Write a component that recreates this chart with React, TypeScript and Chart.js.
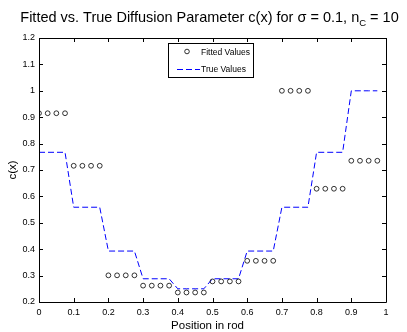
import React, { useEffect, useRef } from "react";
import { Chart, registerables } from "chart.js";

Chart.register(...registerables);

const positions: number[] = [
  0, 0.025, 0.05, 0.075, 0.1, 0.125, 0.15, 0.175, 0.2, 0.225,
  0.25, 0.275, 0.3, 0.325, 0.35, 0.375, 0.4, 0.425, 0.45, 0.475,
  0.5, 0.525, 0.55, 0.575, 0.6, 0.625, 0.65, 0.675, 0.7, 0.725,
  0.75, 0.775, 0.8, 0.825, 0.85, 0.875, 0.9, 0.925, 0.95, 0.975,
];

const fittedValues: number[] = [
  0.915, 0.915, 0.915, 0.915, 0.716, 0.716, 0.716, 0.716,
  0.301, 0.301, 0.301, 0.301, 0.262, 0.262, 0.262, 0.262,
  0.236, 0.236, 0.236, 0.236, 0.278, 0.278, 0.278, 0.278,
  0.356, 0.356, 0.356, 0.356, 1.0, 1.0, 1.0, 1.0,
  0.629, 0.629, 0.629, 0.629, 0.735, 0.735, 0.735, 0.735,
];

const trueValues: number[] = [
  0.767, 0.767, 0.767, 0.767, 0.559, 0.559, 0.559, 0.559,
  0.393, 0.393, 0.393, 0.393, 0.288, 0.288, 0.288, 0.288,
  0.25, 0.25, 0.25, 0.25, 0.288, 0.288, 0.288, 0.288,
  0.393, 0.393, 0.393, 0.393, 0.559, 0.559, 0.559, 0.559,
  0.767, 0.767, 0.767, 0.767, 1.0, 1.0, 1.0, 1.0,
];

const xTicks: number[] = [0, 0.1, 0.2, 0.3, 0.4, 0.5, 0.6, 0.7, 0.8, 0.9, 1];
const yTicks: number[] = [0.2, 0.3, 0.4, 0.5, 0.6, 0.7, 0.8, 0.9, 1, 1.1, 1.2];

const titleMain = "Fitted vs. True Diffusion Parameter c(x) for \u03c3 = 0.1, n";
const titleSub = "C";
const titleEnd = " = 10";
const xLabel = "Position in rod";
const yLabel = "c(x)";
const legendLabels: string[] = ["Fitted Values", "True Values"];

const FONT = "'Liberation Sans', Arial, Helvetica, sans-serif";

const W = 407;
const H = 332;

const decorPlugin = {
  id: "decor",
  afterDatasetsDraw(chart: any) {
    const ctx = chart.ctx as CanvasRenderingContext2D;
    const { left, right, top, bottom } = chart.chartArea;
    const xs = chart.scales.x;
    const ys = chart.scales.y;
    ctx.save();
    // box
    ctx.strokeStyle = "#000";
    ctx.lineWidth = 1;
    ctx.beginPath();
    ctx.rect(Math.round(left) + 0.5, Math.round(top) + 0.5, Math.round(right - left), Math.round(bottom - top));
    ctx.stroke();
    // inner ticks
    const tl = 4;
    ctx.beginPath();
    xTicks.forEach((v) => {
      const px = Math.round(xs.getPixelForValue(v)) + 0.5;
      ctx.moveTo(px, bottom);
      ctx.lineTo(px, bottom - tl);
      ctx.moveTo(px, top);
      ctx.lineTo(px, top + tl);
    });
    yTicks.forEach((v) => {
      const py = Math.round(ys.getPixelForValue(v)) + 0.5;
      ctx.moveTo(left, py);
      ctx.lineTo(left + tl, py);
      ctx.moveTo(right, py);
      ctx.lineTo(right - tl, py);
    });
    ctx.stroke();

    // title
    ctx.fillStyle = "#000";
    ctx.textBaseline = "alphabetic";
    const tf = `14.5px ${FONT}`;
    const sf = `9.5px ${FONT}`;
    ctx.font = tf;
    const w1 = ctx.measureText(titleMain).width;
    const w3 = ctx.measureText(titleEnd).width;
    ctx.font = sf;
    const w2 = ctx.measureText(titleSub).width;
    const total = w1 + w2 + w3;
    let tx = 209.5 - total / 2;
    const ty = 21.5;
    ctx.textAlign = "left";
    ctx.font = tf;
    ctx.fillText(titleMain, tx, ty);
    tx += w1;
    ctx.font = sf;
    ctx.fillText(titleSub, tx, ty + 4);
    tx += w2;
    ctx.font = tf;
    ctx.fillText(titleEnd, tx, ty);

    // axis labels
    ctx.font = `11.5px ${FONT}`;
    ctx.textAlign = "center";
    ctx.textBaseline = "middle";
    ctx.fillText(xLabel, 207.5, 326);
    ctx.save();
    ctx.translate(12.5, 170);
    ctx.rotate(-Math.PI / 2);
    ctx.fillText(yLabel, 0, 0);
    ctx.restore();

    // legend
    const lx = 168.5, ly = 43.5, lw = 85, lh = 34;
    ctx.fillStyle = "#fff";
    ctx.fillRect(lx, ly, lw, lh);
    ctx.strokeStyle = "#000";
    ctx.lineWidth = 1;
    ctx.strokeRect(lx, ly, lw, lh);
    ctx.beginPath();
    ctx.arc(187, 51.5, 2.3, 0, Math.PI * 2);
    ctx.strokeStyle = "#000";
    ctx.lineWidth = 0.8;
    ctx.stroke();
    ctx.beginPath();
    ctx.setLineDash([6, 3]);
    ctx.strokeStyle = "#0000ff";
    ctx.lineWidth = 1;
    ctx.moveTo(177, 69.5);
    ctx.lineTo(200, 69.5);
    ctx.stroke();
    ctx.setLineDash([]);
    ctx.fillStyle = "#000";
    ctx.font = `8.5px ${FONT}`;
    ctx.textAlign = "left";
    ctx.textBaseline = "middle";
    ctx.fillText(legendLabels[0], 201, 53);
    ctx.fillText(legendLabels[1], 201, 70);
    ctx.restore();
  },
};

export default function App() {
  const ref = useRef<HTMLCanvasElement | null>(null);
  useEffect(() => {
    if (!ref.current) return;
    const chart = new Chart(ref.current, {
      type: "scatter",
      data: {
        datasets: [
          {
            label: legendLabels[0],
            data: positions.map((x, i) => ({ x, y: fittedValues[i] })),
            showLine: false,
            pointStyle: "circle",
            pointRadius: 2.4,
            pointBorderWidth: 0.8,
            pointBorderColor: "#000",
            pointBackgroundColor: "rgba(0,0,0,0)",
          },
          {
            label: legendLabels[1],
            data: positions.map((x, i) => ({ x, y: trueValues[i] })),
            showLine: true,
            borderColor: "#0000ff",
            borderWidth: 1,
            borderDash: [6, 3],
            pointRadius: 0,
            fill: false,
            tension: 0,
          },
        ],
      },
      options: {
        responsive: false,
        animation: false,
        devicePixelRatio: 1,
        layout: { padding: { left: 0, top: 38, right: 21, bottom: 0 } },
        plugins: {
          legend: { display: false },
          title: { display: false },
          tooltip: { enabled: false },
        },
        scales: {
          x: {
            type: "linear",
            min: 0,
            max: 1,
            afterFit: (s: any) => {
              s.height = 30;
            },
            afterBuildTicks: (s: any) => {
              s.ticks = xTicks.map((v) => ({ value: v }));
            },
            grid: { display: false, drawTicks: false },
            border: { display: false },
            ticks: {
              padding: 5,
              color: "#000",
              font: { family: FONT, size: 9 },
              callback: (v: any) => String(parseFloat(Number(v).toFixed(2))),
              maxRotation: 0,
              autoSkip: false,
            },
          },
          y: {
            type: "linear",
            min: 0.2,
            max: 1.2,
            afterFit: (s: any) => {
              s.width = 39;
            },
            afterBuildTicks: (s: any) => {
              s.ticks = yTicks.map((v) => ({ value: v }));
            },
            grid: { display: false, drawTicks: false },
            border: { display: false },
            ticks: {
              padding: 4,
              color: "#000",
              font: { family: FONT, size: 9 },
              callback: (v: any) => String(parseFloat(Number(v).toFixed(2))),
              autoSkip: false,
            },
          },
        },
      },
      plugins: [decorPlugin],
    });
    return () => chart.destroy();
  }, []);
  return (
    <div style={{ position: "absolute", left: 0, top: 0, width: W, height: H, background: "#fff" }}>
      <canvas ref={ref} width={W} height={H} style={{ width: W, height: H }} />
    </div>
  );
}
